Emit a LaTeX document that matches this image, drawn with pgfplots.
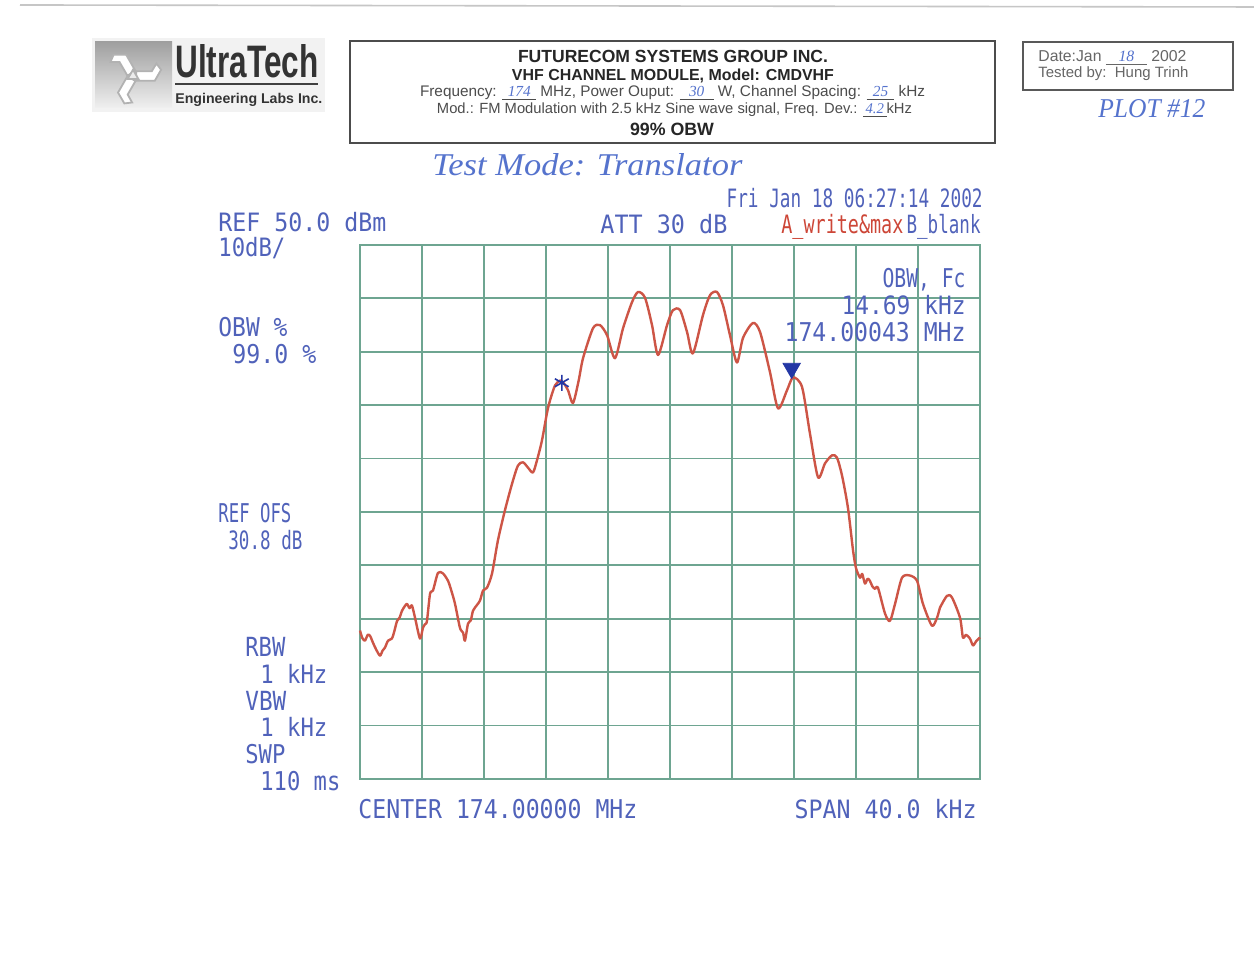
\documentclass[border=0pt]{standalone}
\usepackage{fontspec}
\setmainfont{Liberation Sans}
\newfontfamily\hpfont{DejaVu Sans Mono}
\newfontfamily\handfont{Liberation Serif}
\usepackage{graphicx}
\usepackage{pgfplots}
\pgfplotsset{compat=1.18}
\definecolor{hpblue}{RGB}{80,98,186}
\definecolor{hpred}{RGB}{205,70,55}
\definecolor{gridc}{RGB}{110,165,145}
\definecolor{tracec}{RGB}{205,85,70}
\definecolor{mkblue}{RGB}{35,55,165}
\definecolor{penblue}{RGB}{85,115,205}
\newcommand\hp[3][hpblue]{\resizebox{#2}{9.6pt}{\color{#1}\hpfont #3}}
\newcommand\hw[1]{{\color{penblue}\handfont\itshape #1}}
\begin{document}
\begin{tikzpicture}
\useasboundingbox (0,0) rectangle (627pt,478pt);
\fill[white] (0,0) rectangle (627pt,478pt);
\begin{axis}[at={(180pt,88.5pt)}, anchor=south west, scale only axis,
  width=310pt, height=267pt,
  xmin=-20, xmax=20, ymin=-50, ymax=50,
  xtick={-20,-16,...,20}, ytick={-50,-40,...,50},
  xticklabels={}, yticklabels={},
  grid=major, major grid style={gridc, line width=0.9pt},
  axis line style={gridc, line width=0.9pt},
  tick style={draw=none}, clip=false]
\addplot[tracec, line width=1.2pt, line join=round, smooth, tension=0.45] coordinates {
(-20.00,-22.2) (-19.85,-23.6) (-19.68,-24.1) (-19.50,-23.0) (-19.35,-23.2) (-19.16,-24.5) (-18.95,-25.8)
(-18.71,-26.9) (-18.55,-26.0) (-18.39,-25.4) (-18.19,-24.1) (-17.94,-23.7) (-17.80,-22.5) (-17.61,-20.4)
(-17.45,-19.8) (-17.29,-18.5) (-17.10,-17.6) (-16.97,-17.2) (-16.80,-18.0) (-16.65,-17.5) (-16.45,-19.8)
(-16.13,-23.7) (-15.94,-21.7) (-15.80,-21.0) (-15.68,-20.4) (-15.48,-15.3) (-15.29,-14.7) (-14.97,-11.4)
(-14.65,-11.5) (-14.32,-12.9) (-14.10,-14.8) (-13.87,-17.2) (-13.55,-21.7) (-13.35,-22.6) (-13.23,-24.1)
(-13.03,-20.9) (-12.85,-20.3) (-12.71,-18.5) (-12.45,-17.4) (-12.26,-16.6) (-12.06,-14.7) (-11.81,-14.2)
(-11.48,-11.5) (-11.10,-5.3) (-10.65,0.3) (-10.19,5.3) (-9.81,8.7) (-9.48,9.3) (-9.16,8.3) (-8.84,7.4)
(-8.58,9.7) (-8.26,13.4) (-7.94,18.5) (-7.74,20.9) (-7.42,23.7) (-7.10,24.6) (-6.90,24.3) (-6.58,22.8)
(-6.26,20.4) (-5.90,24.5) (-5.61,28.8) (-4.97,34.4) (-4.52,35.0) (-4.06,33.1) (-3.55,28.8) (-3.03,34.4)
(-2.45,39.3) (-2.06,41.2) (-1.61,40.1) (-1.16,35.0) (-0.77,29.4) (-0.19,35.0) (0.19,37.8) (0.65,37.8)
(1.10,33.7) (1.48,29.7) (2.13,36.9) (2.58,40.6) (3.03,41.2) (3.42,38.7) (3.87,33.1) (4.32,28.0)
(4.71,32.6) (5.35,35.4) (5.81,33.7) (6.45,26.2) (6.97,19.4) (7.55,22.8) (7.94,25.2) (8.52,23.4)
(9.03,14.7) (9.55,6.5) (10.00,9.1) (10.45,10.6) (10.77,10.2) (11.10,6.8) (11.48,0.8) (11.81,-7.2)
(12.00,-10.5) (12.26,-12.3) (12.40,-11.6) (12.58,-13.4) (12.75,-12.5) (12.90,-12.9) (13.05,-13.9)
(13.23,-14.4) (13.42,-14.2) (13.87,-19.0) (14.19,-20.4) (14.52,-17.2) (14.97,-12.3) (15.48,-11.9)
(15.94,-12.9) (16.32,-17.2) (16.90,-21.3) (17.23,-19.8) (17.35,-18.6) (17.42,-17.9) (17.87,-15.7)
(18.19,-16.0) (18.71,-19.8) (18.90,-23.5) (19.10,-23.0) (19.35,-23.7) (19.55,-25.0) (19.75,-24.2) (20.00,-23.5)
};
\addplot[only marks, mark=asterisk, mark size=4pt, mkblue, line width=0.8pt] coordinates {(-6.98,24.2)};
\addplot[only marks, mark=triangle*, mark size=5pt, mkblue, mark options={rotate=180}] coordinates {(7.85,26.9)};
\end{axis}
\begin{scope}[x=0.5pt,y=-0.5pt,shift={(0pt,478pt)}]
% scan edge
\draw[gray!45, line width=0.8pt] (20,5) -- (1254,7);
% analyzer annotations
\node[anchor=base west, inner sep=0] at (218,232) {\hp{84pt}{REF 50.0 dBm}};
\node[anchor=base west, inner sep=0] at (218,257) {\hp{33.5pt}{10dB/}};
\node[anchor=base west, inner sep=0] at (600,234) {\hp{63.5pt}{ATT 30 dB}};
\node[anchor=base east, inner sep=0] at (983,208) {\hp{128pt}{Fri Jan 18 06:27:14 2002}};
\node[anchor=base west, inner sep=0] at (781,234) {\hp[hpred]{61pt}{A\_write\&max}};
\node[anchor=base east, inner sep=0] at (981,234) {\hp{37pt}{B\_blank}};
\node[anchor=base east, inner sep=0] at (966,288) {\hp{41.5pt}{OBW, Fc}};
\node[anchor=base east, inner sep=0] at (966,315) {\hp{62pt}{14.69 kHz}};
\node[anchor=base east, inner sep=0] at (966,342) {\hp{90.5pt}{174.00043 MHz}};
\node[anchor=base west, inner sep=0] at (218,337) {\hp{34.5pt}{OBW \%}};
\node[anchor=base west, inner sep=0] at (232,364) {\hp{42pt}{99.0 \%}};
\node[anchor=base west, inner sep=0] at (218,523) {\hp{36.5pt}{REF OFS}};
\node[anchor=base west, inner sep=0] at (228,550) {\hp{37pt}{30.8 dB}};
\node[anchor=base west, inner sep=0] at (245,657) {\hp{20pt}{RBW}};
\node[anchor=base west, inner sep=0] at (260,684) {\hp{33.5pt}{1 kHz}};
\node[anchor=base west, inner sep=0] at (245,711) {\hp{20.5pt}{VBW}};
\node[anchor=base west, inner sep=0] at (260,737) {\hp{33.5pt}{1 kHz}};
\node[anchor=base west, inner sep=0] at (245,764) {\hp{20pt}{SWP}};
\node[anchor=base west, inner sep=0] at (260,791) {\hp{40pt}{110 ms}};
\node[anchor=base west, inner sep=0] at (358,819) {\hp{139.5pt}{CENTER 174.00000 MHz}};
\node[anchor=base east, inner sep=0] at (977,819) {\hp{91pt}{SPAN 40.0 kHz}};
% logo
\fill[gray!10] (92,38) rectangle (325,112);
\shade[top color=gray!75, bottom color=gray!12] (95,42) rectangle (172,108);
\begin{scope}[shift={(133,76)}, scale=0.78]
  \foreach \a in {90,210,330}{
    \draw[gray!60, line width=0.9pt, fill=white, rotate=\a] (-6,4) -- (6,4) -- (6,24) -- (16,30) -- (8,36) -- (-6,28) -- cycle;
  }
  \draw[gray!60, line width=0.9pt, fill=gray!15] (0,-8) -- (7,4) -- (-7,4) -- cycle;
\end{scope}
\node[anchor=base west, inner sep=0] at (175,78) {\resizebox{71.5pt}{16.5pt}{\color{black!80}\bfseries UltraTech}};
\fill[black!75] (175,83) rectangle (318,85.5);
\node[anchor=base west, inner sep=0] at (175,104) {\resizebox{73.5pt}{!}{\color{black!80}\bfseries Engineering Labs Inc.}};
% header box
\draw[black!70, line width=1pt] (350,41) rectangle (995,143);
\node[anchor=base, inner sep=0] at (673,63) {\resizebox{155pt}{!}{\color{black!85}\bfseries FUTURECOM SYSTEMS GROUP INC.}};
\node[anchor=base, inner sep=0] at (673,81) {\resizebox{161pt}{!}{\color{black!85}\bfseries VHF CHANNEL MODULE, Model: CMDVHF}};
\node[anchor=base, inner sep=0] at (672.5,97) {\resizebox{252.5pt}{!}{\color{black!70}Frequency: \underline{\makebox[2.2em]{\hw{174}}} MHz, Power Ouput: \underline{\makebox[2.2em]{\hw{30}}} W, Channel Spacing: \underline{\makebox[1.8em]{\hw{25}}} kHz}};
\node[anchor=base, inner sep=0] at (674.5,114) {\resizebox{237.5pt}{!}{\color{black!70}Mod.: FM Modulation with 2.5 kHz Sine wave signal, Freq. Dev.: \underline{\makebox[1.6em]{\hw{4.2}}}kHz}};
\node[anchor=base, inner sep=0] at (672,136) {\resizebox{42pt}{!}{\color{black!85}\bfseries 99\% OBW}};
% date box
\draw[black!65, line width=1pt] (1023,42) rectangle (1233,90);
\node[anchor=base west, inner sep=0] at (1038,62) {\resizebox{74pt}{!}{\color{black!60}Date:Jan \underline{\makebox[2.6em]{\hw{18}}} 2002}};
\node[anchor=base west, inner sep=0] at (1038,78) {\resizebox{75pt}{!}{\color{black!60}Tested by:\ \ Hung Trinh}};
\node[anchor=base west, inner sep=0] at (1098,118) {\resizebox{53.5pt}{9pt}{\hw{PLOT \#12}}};
\node[anchor=base west, inner sep=0] at (432,176) {\resizebox{155pt}{11pt}{\hw{Test Mode: Translator}}};
\end{scope}
\end{tikzpicture}
\end{document}
